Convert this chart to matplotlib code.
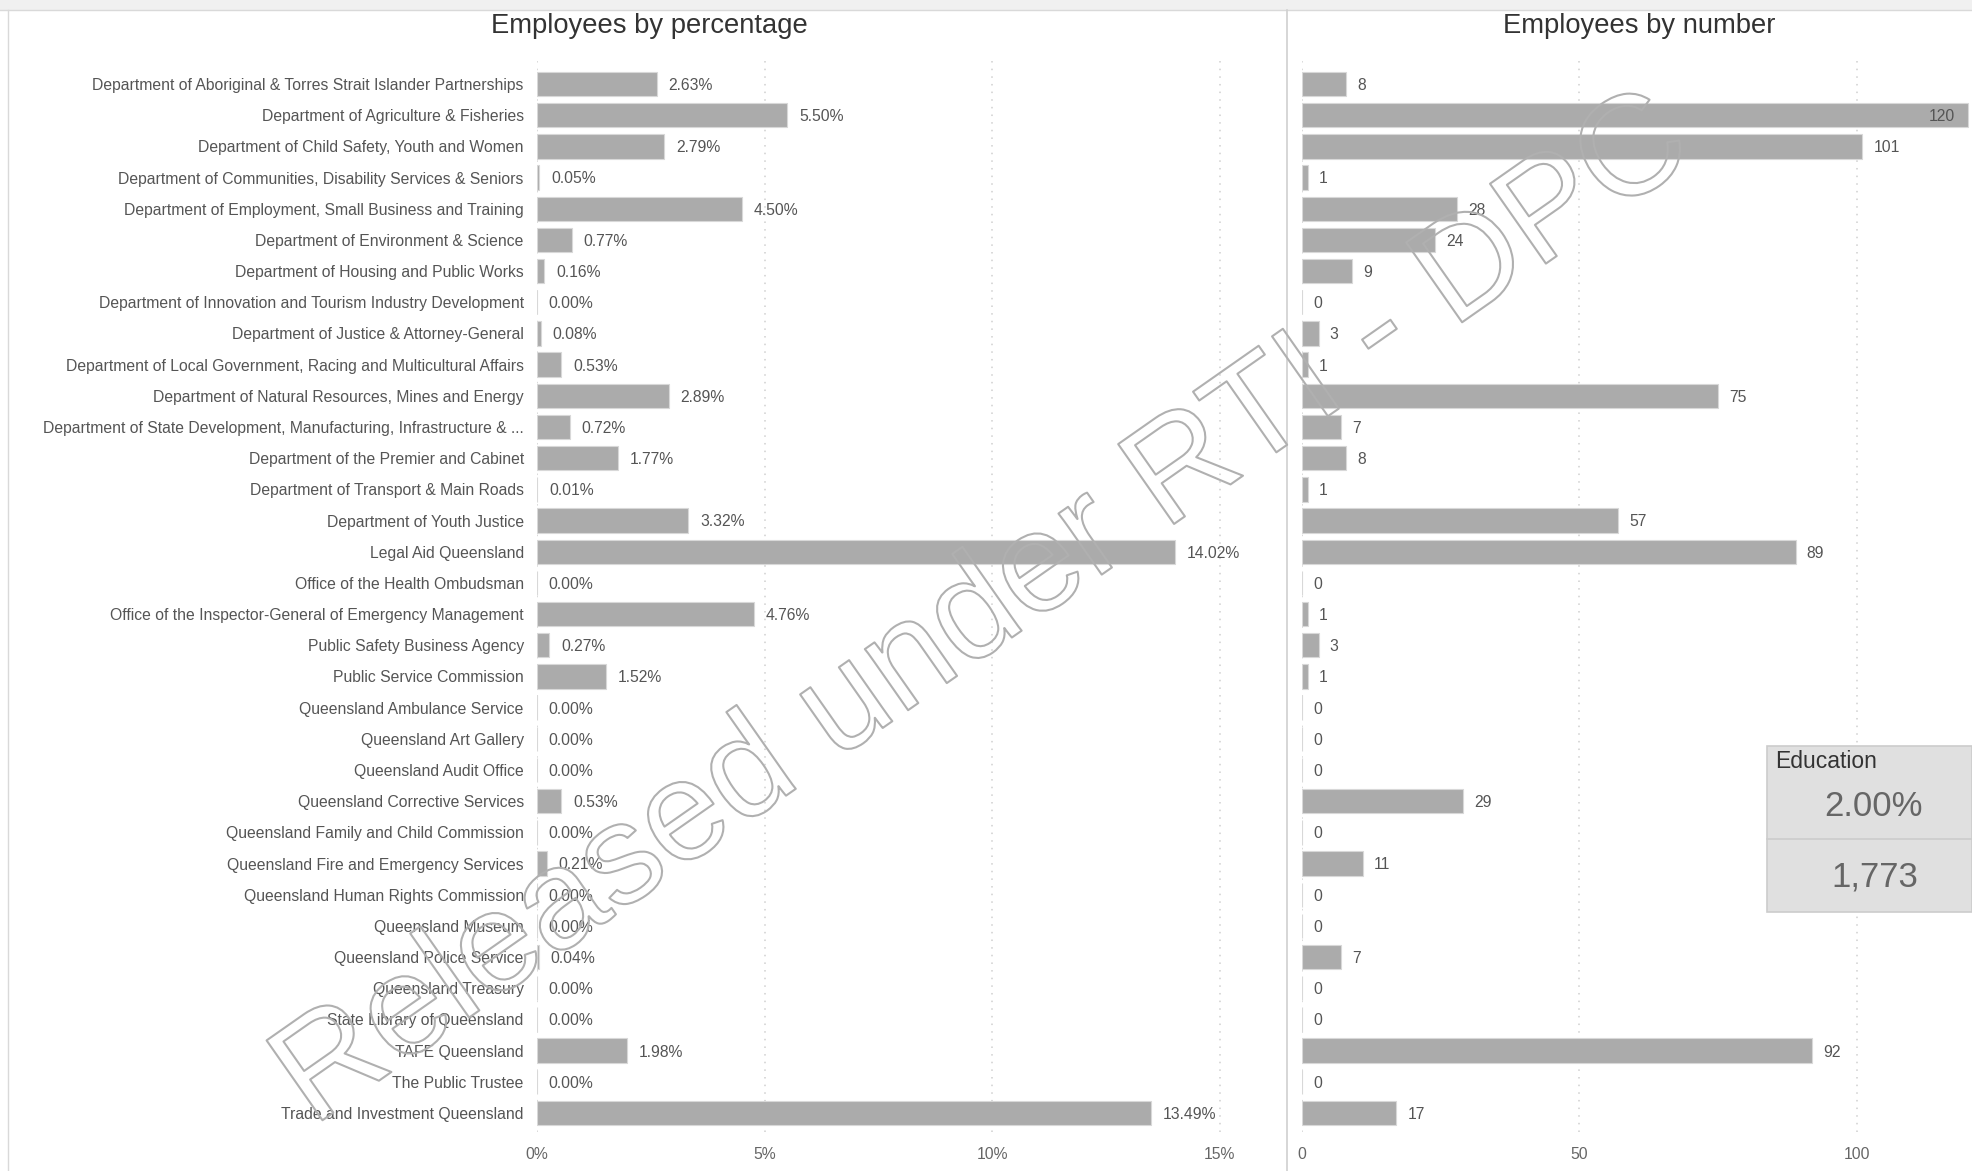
import matplotlib
matplotlib.use("Agg")
import matplotlib.pyplot as plt
import matplotlib.patheffects as pe
from matplotlib.patches import Rectangle
from matplotlib.lines import Line2D
from matplotlib.ticker import FuncFormatter

plt.rcParams['font.family'] = ['Liberation Sans', 'DejaVu Sans']

departments = [
    "Department of Aboriginal & Torres Strait Islander Partnerships",
    "Department of Agriculture & Fisheries",
    "Department of Child Safety, Youth and Women",
    "Department of Communities, Disability Services & Seniors",
    "Department of Employment, Small Business and Training",
    "Department of Environment & Science",
    "Department of Housing and Public Works",
    "Department of Innovation and Tourism Industry Development",
    "Department of Justice & Attorney-General",
    "Department of Local Government, Racing and Multicultural Affairs",
    "Department of Natural Resources, Mines and Energy",
    "Department of State Development, Manufacturing, Infrastructure & ...",
    "Department of the Premier and Cabinet",
    "Department of Transport & Main Roads",
    "Department of Youth Justice",
    "Legal Aid Queensland",
    "Office of the Health Ombudsman",
    "Office of the Inspector-General of Emergency Management",
    "Public Safety Business Agency",
    "Public Service Commission",
    "Queensland Ambulance Service",
    "Queensland Art Gallery",
    "Queensland Audit Office",
    "Queensland Corrective Services",
    "Queensland Family and Child Commission",
    "Queensland Fire and Emergency Services",
    "Queensland Human Rights Commission",
    "Queensland Museum",
    "Queensland Police Service",
    "Queensland Treasury",
    "State Library of Queensland",
    "TAFE Queensland",
    "The Public Trustee",
    "Trade and Investment Queensland",
]

pct_values = [2.63, 5.50, 2.79, 0.05, 4.50, 0.77, 0.16, 0.00, 0.08, 0.53,
              2.89, 0.72, 1.77, 0.01, 3.32, 14.02, 0.00, 4.76, 0.27, 1.52,
              0.00, 0.00, 0.00, 0.53, 0.00, 0.21, 0.00, 0.00, 0.04, 0.00,
              0.00, 1.98, 0.00, 13.49]

num_values = [8, 120, 101, 1, 28, 24, 9, 0, 3, 1,
              75, 7, 8, 1, 57, 89, 0, 1, 3, 1,
              0, 0, 0, 29, 0, 11, 0, 0, 7, 0,
              0, 92, 0, 17]

pct_ticks = [0, 5, 10, 15]
num_ticks = [0, 50, 100]

summary_title = "Education"
summary_pct = "2.00%"
summary_num = "1,773"

titles = ["Employees by percentage", "Employees by number"]
watermark = "Released under RTI - DPC"

W, H = 1972, 1171
fig = plt.figure(figsize=(W / 100, H / 100), dpi=100)
fig.patch.set_facecolor('white')


def fx(x):
    return x / W


def fy(y):
    return 1 - y / H


BAR = '#ababab'
EDGE = '#d8d8d8'
TXT = '#555555'
GRID = '#cfcfcf'
FS = 11.3

top_px, bot_px = 60, 1132
ax1 = fig.add_axes([fx(537), fy(bot_px), fx(1270 - 537), (bot_px - top_px) / H])
ax2 = fig.add_axes([fx(1302), fy(bot_px), fx(1972 - 1302), (bot_px - top_px) / H])

n = len(departments)
ypos = list(range(n))


def style(ax, xmax, ticks, fmt):
    ax.set_xlim(0, xmax)
    ax.set_ylim(n - 1 + 0.61, -0.77)
    for s in ax.spines.values():
        s.set_visible(False)
    ax.set_xticks(ticks)
    ax.xaxis.set_major_formatter(FuncFormatter(fmt))
    ax.tick_params(axis='x', length=0, pad=11, labelsize=FS, labelcolor='#666666')
    ax.tick_params(axis='y', length=0)
    ax.grid(axis='x', color=GRID, linestyle=(0, (1, 4)), linewidth=1.1)
    ax.set_axisbelow(True)
    ax.patch.set_alpha(0)


style(ax1, 16.1, pct_ticks, lambda v, p: f"{v:g}%")
style(ax2, 120.8, num_ticks, lambda v, p: f"{v:g}")

ax1.barh(ypos, pct_values, height=0.78, color=BAR, edgecolor=EDGE, linewidth=0.8)
ax2.barh(ypos, num_values, height=0.78, color=BAR, edgecolor=EDGE, linewidth=0.8)

ax1.set_yticks(ypos)
ax1.set_yticklabels(departments, fontsize=FS, color=TXT)
ax1.tick_params(axis='y', pad=9.5)
ax2.set_yticks([])

for y, v in zip(ypos, pct_values):
    ax1.annotate(f"{v:.2f}%", (v, y), xytext=(8.5, -1), textcoords='offset points',
                 ha='left', va='center', fontsize=FS, color=TXT)

for y, v in zip(ypos, num_values):
    if v > 112:
        ax2.annotate(f"{v}", (v, y), xytext=(-9, -1), textcoords='offset points',
                     ha='right', va='center', fontsize=FS, color=TXT)
    else:
        ax2.annotate(f"{v}", (v, y), xytext=(8, -1), textcoords='offset points',
                     ha='left', va='center', fontsize=FS, color=TXT)

# titles
fig.text(fx(649), fy(26), titles[0], ha='center', va='center', fontsize=19.7, color='#333333')
fig.text(fx(1639), fy(26), titles[1], ha='center', va='center', fontsize=19.7, color='#333333')

# frame elements
fig.add_artist(Rectangle((0, fy(10)), 1, 10 / H, transform=fig.transFigure,
                         facecolor='#f0f0f0', edgecolor='none', zorder=0))
fig.add_artist(Line2D([0, 1], [fy(10), fy(10)], transform=fig.transFigure,
                      color='#d9d9d9', linewidth=1))
fig.add_artist(Line2D([fx(8), fx(8)], [fy(10), 0], transform=fig.transFigure,
                      color='#d9d9d9', linewidth=1))
fig.add_artist(Line2D([fx(1287), fx(1287)], [fy(10), 0], transform=fig.transFigure,
                      color='#d0d0d0', linewidth=1.2))

# summary box
bx0, bx1, by0, by1, bmid = 1767, 1972, 746, 912, 839
fig.add_artist(Rectangle((fx(bx0), fy(by1)), fx(bx1 - bx0), (by1 - by0) / H,
                         transform=fig.transFigure, facecolor='#e0e0e0',
                         edgecolor='#cccccc', linewidth=1.2, zorder=5))
fig.add_artist(Line2D([fx(bx0), fx(bx1)], [fy(bmid), fy(bmid)], transform=fig.transFigure,
                      color='#cccccc', linewidth=1.2, zorder=6))
fig.text(fx(1775), fy(761), summary_title, ha='left', va='center', fontsize=16.5,
         color='#333333', zorder=7)
fig.text(fx(1874), fy(807), summary_pct, ha='center', va='center', fontsize=25,
         color='#666666', zorder=7)
fig.text(fx(1875), fy(877), summary_num, ha='center', va='center', fontsize=25,
         color='#666666', zorder=7)

# watermark (outlined text)
fig.text(0.499, 0.4775, watermark, ha='center', va='center', rotation=35,
         rotation_mode='anchor', fontsize=102, color='none', zorder=10,
         path_effects=[pe.Stroke(linewidth=1.5, foreground='#b0b0b0')])

fig.savefig("out.png", dpi=100)
